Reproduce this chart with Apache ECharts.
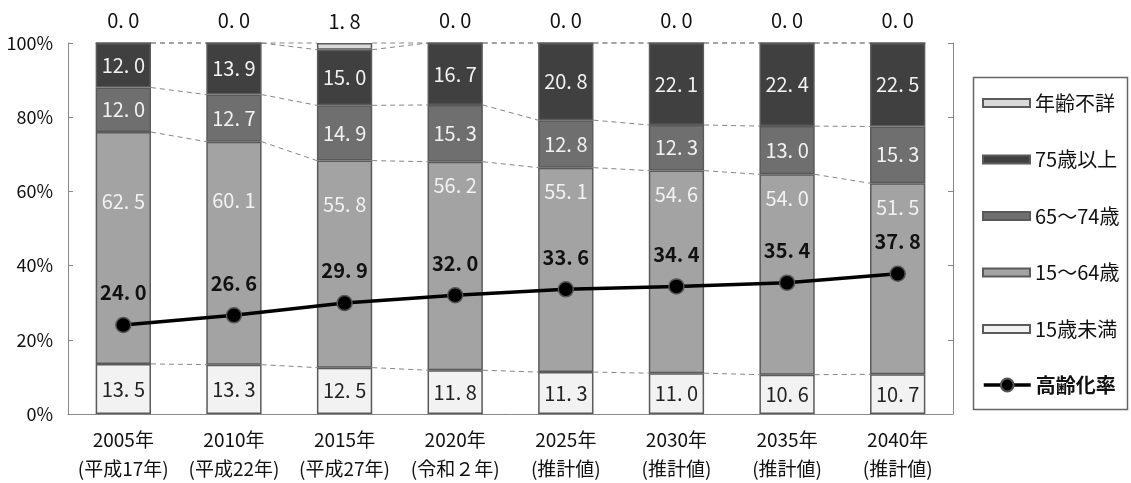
<!DOCTYPE html>
<html>
<head>
<meta charset="utf-8">
<script src="https://cdn.jsdelivr.net/npm/echarts@6/dist/echarts.min.js"></script>
<style>
  html, body { margin: 0; padding: 0; background: #fff; }
  #chart { width: 1131px; height: 483px; }
</style>
</head>
<body>
<div id="chart"></div>
<script>
// Population composition by age group (%), and aging rate
const categories = [
  '2005年\n(平成17年)', '2010年\n(平成22年)', '2015年\n(平成27年)', '2020年\n(令和２年)',
  '2025年\n(推計値)', '2030年\n(推計値)', '2035年\n(推計値)', '2040年\n(推計値)'
];
const under15   = [13.5, 13.3, 12.5, 11.8, 11.3, 11.0, 10.6, 10.7];
const age15to64 = [62.5, 60.1, 55.8, 56.2, 55.1, 54.6, 54.0, 51.5];
const age65to74 = [12.0, 12.7, 14.9, 15.3, 12.8, 12.3, 13.0, 15.3];
const over75    = [12.0, 13.9, 15.0, 16.7, 20.8, 22.1, 22.4, 22.5];
const unknown   = [0.0, 0.0, 1.8, 0.0, 0.0, 0.0, 0.0, 0.0];
const agingRate = [24.0, 26.6, 29.9, 32.0, 33.6, 34.4, 35.4, 37.8];
const yTicks    = [0, 20, 40, 60, 80, 100];

// Distance (px) of the 15～64歳 value labels below the top of their segment
const midLabelDistance = [59, 49, 34, 14, 14, 14, 14, 14];

const FONT = '"Noto Sans CJK JP", "Noto Sans", sans-serif';
const fmt = v => v.toFixed(1).replace('.', '. ');

// Segment tops for each column, used for the dashed series lines
const layers = [under15, age15to64, age65to74, over75, unknown];
const tops = categories.map((_, i) => {
  let acc = 0;
  return layers.map(l => (acc += l[i]));
});
const seriesLineData = [];
for (let i = 0; i < categories.length - 1; i++) {
  for (let k = 0; k < layers.length; k++) {
    seriesLineData.push([i, tops[i][k], tops[i + 1][k]]);
  }
}

const BAR_W = 0.5;
const border = { borderColor: '#5a5a5a', borderWidth: 1.5 };

function barSeries(name, data, color, labelColor, labelPos, dist) {
  return {
    name, type: 'bar', stack: 'total', data, barWidth: (BAR_W * 100) + '%',
    itemStyle: Object.assign({ color }, border),
    label: {
      show: true, position: labelPos || 'inside', distance: dist || 5,
      formatter: p => fmt(p.value),
      color: labelColor, fontFamily: FONT, fontSize: 20
    },
    emphasis: { disabled: true }
  };
}

const midSeries = barSeries('15～64歳', age15to64.map((v, i) => ({
  value: v,
  label: { position: 'insideTop', distance: midLabelDistance[i] }
})), '#a3a3a3', '#f2f2f2');

const legendText = { fontFamily: FONT, fontSize: 20, color: '#111', lineHeight: 22 };

const chart = echarts.init(document.getElementById('chart'), null, { renderer: 'canvas' });
chart.setOption({
  animation: false,
  backgroundColor: '#fff',
  textStyle: { fontFamily: FONT },
  grid: { left: 68, right: 178, top: 43, bottom: 68, containLabel: false },
  // legend frame
  graphic: [{
    type: 'rect', left: 971, top: 75, silent: true,
    shape: { width: 154, height: 332 },
    style: { fill: 'none', stroke: '#666', lineWidth: 1.5 }
  }],
  legend: [{
    orient: 'vertical', left: 982, top: 92, padding: 0,
    itemWidth: 47, itemHeight: 8, itemGap: 34.5, itemTextGap: 5,
    textStyle: legendText,
    data: [
      { name: '年齢不詳', icon: 'rect' },
      { name: '75歳以上', icon: 'rect' },
      { name: '65～74歳', icon: 'rect' },
      { name: '15～64歳', icon: 'rect' },
      { name: '15歳未満', icon: 'rect' }
    ]
  }, {
    orient: 'vertical', left: 982, top: 374, padding: 0,
    itemWidth: 47, itemHeight: 16, itemTextGap: 5,
    textStyle: Object.assign({}, legendText, { fontWeight: 'bold' }),
    lineStyle: { width: 3.5 },
    data: ['高齢化率']
  }],
  xAxis: {
    type: 'category', data: categories,
    axisLine: { lineStyle: { color: '#888', width: 1 } },
    axisTick: { inside: true, length: 5, lineStyle: { color: '#aaa' } },
    axisLabel: { interval: 0, color: '#111', fontSize: 19, lineHeight: 29, margin: 11, fontFamily: FONT }
  },
  yAxis: [{
    type: 'value', min: 0, max: 100, interval: 20,
    axisLine: { show: true, lineStyle: { color: '#888' } },
    axisTick: { show: true, inside: true, length: 5, lineStyle: { color: '#888' } },
    splitLine: { show: false },
    axisLabel: {
      color: '#111', fontSize: 18, margin: 15, fontFamily: FONT,
      formatter: v => (yTicks.indexOf(v) >= 0 ? v + '%' : '')
    }
  }, {
    type: 'value', min: 0, max: 100, interval: 20, position: 'right',
    axisLine: { show: true, lineStyle: { color: '#888' } },
    axisTick: { show: true, inside: true, length: 5, lineStyle: { color: '#888' } },
    splitLine: { show: false },
    axisLabel: { show: false }
  }],
  series: [
    barSeries('15歳未満', under15, '#f2f2f2', '#222'),
    midSeries,
    barSeries('65～74歳', age65to74, '#6f6f6f', '#f2f2f2'),
    barSeries('75歳以上', over75, '#404040', '#f2f2f2'),
    barSeries('年齢不詳', unknown, '#d9d9d9', '#111', 'top', 12),
    {
      name: 'series-lines', type: 'custom', data: seriesLineData, z: 1,
      silent: true,
      renderItem(params, api) {
        const i = api.value(0);
        const a = api.coord([i, api.value(1)]);
        const b = api.coord([i + 1, api.value(2)]);
        const half = api.size([1, 0])[0] * BAR_W / 2;
        return {
          type: 'line',
          shape: { x1: a[0] + half, y1: a[1], x2: b[0] - half, y2: b[1] },
          style: { stroke: '#858585', lineWidth: 1, lineDash: [5, 4] }
        };
      }
    },
    {
      name: '高齢化率', type: 'line', data: agingRate, z: 5,
      symbol: 'circle', symbolSize: 15,
      lineStyle: { color: '#000', width: 3.5 },
      itemStyle: { color: '#000', borderColor: '#555', borderWidth: 1.5 },
      label: {
        show: true, position: 'top', distance: 14,
        formatter: p => fmt(p.value),
        color: '#111', fontWeight: 'bold', fontSize: 20, fontFamily: FONT
      },
      emphasis: { disabled: true }
    }
  ]
});
</script>
</body>
</html>
